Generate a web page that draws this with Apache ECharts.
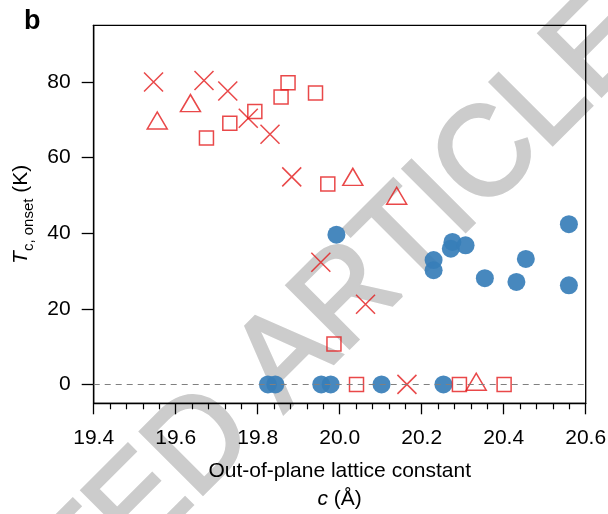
<!DOCTYPE html>
<html>
<head>
<meta charset="utf-8">
<script src="https://cdn.jsdelivr.net/npm/echarts@6/dist/echarts.min.js"></script>
<style>
html,body{margin:0;padding:0;background:#fff;}
#chart{width:608px;height:514px;}
</style>
</head>
<body>
<div id="chart"></div>
<script>
// ---- data ----
const xTicks = [19.4, 19.6, 19.8, 20.0, 20.2, 20.4, 20.6];
const yTicks = [0, 20, 40, 60, 80];

// red crosses
const crossC = [19.546, 19.669, 19.727, 19.777, 19.830, 19.883, 19.954, 20.063, 20.164];
const crossT = [80.0, 80.4, 77.6, 70.4, 66.2, 54.9, 32.3, 21.2, 0];

// red open triangles
const triC = [19.555, 19.636, 20.032, 20.139, 20.333];
const triT = [69.8, 74.4, 54.9, 49.9, 0.7];

// red open squares
const sqC = [19.675, 19.732, 19.793, 19.857, 19.874, 19.941, 19.971, 19.986, 20.041, 20.292, 20.401];
const sqT = [65.2, 69.1, 72.2, 76.0, 79.8, 77.1, 53.0, 10.7, 0, 0, 0];

// blue filled circles
const cirC = [19.825, 19.843, 19.955, 19.978, 20.102, 20.253, 19.992, 20.229, 20.229, 20.275, 20.271, 20.307, 20.354, 20.431, 20.454, 20.559, 20.559];
const cirT = [0, 0, 0, 0, 0, 0, 39.6, 32.9, 30.2, 37.7, 35.9, 36.8, 28.1, 27.1, 33.2, 42.4, 26.2];

const zip = (a, b) => a.map((v, i) => [v, b[i]]);

const RED = '#e41a1c';
const BLUE = '#377eb8';
const FONT = 'Liberation Sans, Arial, sans-serif';

const chart = echarts.init(document.getElementById('chart'), null, {renderer: 'canvas'});

chart.setOption({
  animation: false,
  backgroundColor: '#fff',
  title: {
    text: 'b', left: 19, top: 3,
    textStyle: {fontFamily: FONT, fontSize: 27, fontWeight: 'bold', color: '#000'}
  },
  graphic: [{
    type: 'text', z: -10, silent: true,
    x: 192, y: 455, rotation: 45 * Math.PI / 180, scaleX: 0.97,
    style: {
      text: 'ACCEPTED ARTICLE', fill: '#cccccc', stroke: '#cccccc', lineWidth: 3.5,
      font: 'normal 128px ' + FONT,
      align: 'center', verticalAlign: 'middle'
    }
  }],
  grid: {
    left: 93.7, right: 22.3, top: 25.3, bottom: 110.7,
    outerBoundsMode: 'none', containLabel: false,
    show: true, borderColor: '#000', borderWidth: 1.3, backgroundColor: 'transparent'
  },
  xAxis: {
    type: 'value', min: 19.4, max: 20.6, interval: 0.2,
    axisLine: {onZero: false, lineStyle: {color: '#000', width: 1.3}},
    axisTick: {show: true, inside: false, length: 11, lineStyle: {color: '#000', width: 1.3}},
    minorTick: {show: true, splitNumber: 5, length: 6, lineStyle: {color: '#000', width: 1.2}},
    splitLine: {show: false},
    axisLabel: {
      margin: 24, color: '#000', fontFamily: FONT, fontSize: 21,
      formatter: v => v.toFixed(1)
    },
    name: '{n|Out-of-plane lattice constant}\n{i|c}{n| (Å)}',
    nameLocation: 'middle', nameGap: 54,
    nameTextStyle: {
      color: '#000', fontFamily: FONT, fontSize: 21, lineHeight: 28,
      rich: {
        n: {fontFamily: FONT, fontSize: 21, lineHeight: 28, color: '#000'},
        i: {fontFamily: FONT, fontSize: 21, lineHeight: 28, fontStyle: 'italic', color: '#000'}
      }
    }
  },
  yAxis: {
    type: 'value', min: -5, max: 95,
    axisLine: {onZero: false, lineStyle: {color: '#000', width: 1.3}},
    axisTick: {show: true, inside: false, length: 12, customValues: yTicks, lineStyle: {color: '#000', width: 1.3}},
    splitLine: {show: false},
    axisLabel: {margin: 23, customValues: yTicks, color: '#000', fontFamily: FONT, fontSize: 21},
    name: '{i|T}{s|c, onset}{n| (K)}',
    nameLocation: 'middle', nameGap: 57, nameRotate: 90,
    nameTextStyle: {
      color: '#000', fontFamily: FONT, fontSize: 21,
      rich: {
        i: {fontFamily: FONT, fontSize: 21, lineHeight: 24, fontStyle: 'italic', color: '#000', verticalAlign: 'bottom'},
        s: {fontFamily: FONT, fontSize: 15, lineHeight: 15, color: '#000', verticalAlign: 'bottom', padding: [0, 0, -5, 0]},
        n: {fontFamily: FONT, fontSize: 21, lineHeight: 24, color: '#000', verticalAlign: 'bottom'}
      }
    }
  },
  series: [
    {
      type: 'scatter', data: [], z: 1, silent: true,
      markLine: {
        silent: true, symbol: ['none', 'none'], label: {show: false},
        lineStyle: {color: '#808080', type: [6, 5], width: 1.2},
        data: [{yAxis: 0}]
      }
    },
    {
      type: 'scatter', data: zip(cirC, cirT), symbol: 'circle', symbolSize: 18, z: 3,
      itemStyle: {color: BLUE, opacity: 0.92}
    },
    {
      type: 'scatter', data: zip(sqC, sqT), symbol: 'rect', symbolSize: 14, z: 4,
      itemStyle: {color: 'rgba(0,0,0,0)', borderColor: RED, borderWidth: 1.5}
    },
    {
      type: 'scatter', data: zip(triC, triT), symbol: 'triangle', symbolSize: [20, 17], z: 4,
      itemStyle: {color: 'rgba(0,0,0,0)', borderColor: RED, borderWidth: 1.5}
    },
    {
      type: 'scatter', data: zip(crossC, crossT), symbol: 'path://M0,0L20,20M20,0L0,20', symbolSize: 19, z: 4,
      itemStyle: {color: 'rgba(0,0,0,0)', borderColor: RED, borderWidth: 1.5}
    }
  ]
});
</script>
</body>
</html>
